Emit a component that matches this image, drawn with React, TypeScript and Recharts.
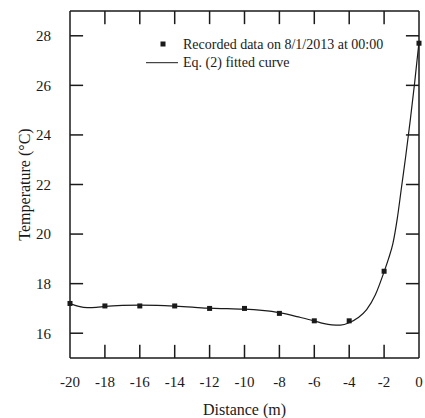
import React from 'react';
import { ComposedChart, Line, Scatter, XAxis, YAxis, ReferenceLine } from 'recharts';

const distances = [-20, -18, -16, -14, -12, -10, -8, -6, -4, -2, 0];
const recordedTemps = [17.2, 17.1, 17.1, 17.1, 17.0, 17.0, 16.8, 16.5, 16.5, 18.5, 27.7];

const fitDistances = [-20, -19.5, -19, -18.5, -18, -17, -16, -15, -14, -13, -12, -11, -10, -9, -8, -7, -6, -5.5, -5, -4.5, -4, -3.5, -3, -2.5, -2, -1.75, -1.5, -1.25, -1, -0.75, -0.5, -0.25, 0];
const fitTemps = [17.2, 17.08, 17.03, 17.04, 17.08, 17.12, 17.13, 17.12, 17.09, 17.05, 17.01, 16.99, 16.97, 16.92, 16.83, 16.67, 16.5, 16.4, 16.34, 16.33, 16.42, 16.62, 16.95, 17.55, 18.48, 19.0, 19.6, 20.6, 21.9, 23.2, 24.6, 26.1, 27.75];

const xTicks = [-20, -18, -16, -14, -12, -10, -8, -6, -4, -2, 0];
const yTicks = [16, 18, 20, 22, 24, 26, 28];
const X_MIN = -20;
const X_MAX = 0;
const Y_MIN = 15;
const Y_MAX = 29;

const recordedData = distances.map((d, i) => ({ x: d, y: recordedTemps[i] }));
const fitData = fitDistances.map((d, i) => ({ x: d, y: fitTemps[i] }));

const FONT = '"Liberation Serif", "Times New Roman", serif';
const INK = '#1a1a1a';
// inward tick length expressed in data units (about 13 px each way)
const TICK_DX = 0.75;
const TICK_DY = 0.53;

const innerXTicks = xTicks.filter((t) => t > X_MIN && t < X_MAX);

const Square = (props: any) => {
  const cx = Number(props.cx);
  const cy = Number(props.cy);
  return <rect x={cx - 2.5} y={cy - 2.5} width={5} height={5} fill={INK} />;
};

const tickText = { fontFamily: FONT, fontSize: 15, fill: INK };

const legendItems = [
  { label: 'Recorded data on 8/1/2013 at 00:00', kind: 'square' },
  { label: 'Eq. (2) fitted curve', kind: 'line' },
];

export default function App() {
  return (
    <div style={{ position: 'absolute', left: 0, top: 0, width: 425, height: 418 }}>
      <ComposedChart width={425} height={418} margin={{ top: 11, right: 6, left: 0, bottom: 0 }}>
        <XAxis
          dataKey="x"
          type="number"
          domain={[X_MIN, X_MAX]}
          ticks={xTicks}
          height={60}
          tickSize={0}
          tickMargin={18}
          tickLine={false}
          tick={tickText}
          interval={0}
          stroke={INK}
          strokeWidth={1.5}
        />
        <YAxis
          dataKey="y"
          type="number"
          domain={[Y_MIN, Y_MAX]}
          ticks={yTicks}
          width={70}
          tickSize={0}
          tickMargin={19}
          tickLine={false}
          tick={tickText}
          interval={0}
          stroke={INK}
          strokeWidth={1.5}
        />
        {/* top and right frame edges */}
        <ReferenceLine y={Y_MAX} stroke={INK} strokeWidth={1.5} />
        <ReferenceLine x={X_MAX} stroke={INK} strokeWidth={1.5} />
        {/* inward tick marks on the bottom and top edges */}
        {innerXTicks.map((t) => (
          <ReferenceLine key={`b${t}`} segment={[{ x: t, y: Y_MIN }, { x: t, y: Y_MIN + TICK_DY }]} stroke={INK} strokeWidth={1.5} />
        ))}
        {innerXTicks.map((t) => (
          <ReferenceLine key={`t${t}`} segment={[{ x: t, y: Y_MAX }, { x: t, y: Y_MAX - TICK_DY }]} stroke={INK} strokeWidth={1.5} />
        ))}
        {/* inward tick marks on the left and right edges */}
        {yTicks.map((t) => (
          <ReferenceLine key={`l${t}`} segment={[{ x: X_MIN, y: t }, { x: X_MIN + TICK_DX, y: t }]} stroke={INK} strokeWidth={1.5} />
        ))}
        {yTicks.map((t) => (
          <ReferenceLine key={`r${t}`} segment={[{ x: X_MAX, y: t }, { x: X_MAX - TICK_DX, y: t }]} stroke={INK} strokeWidth={1.5} />
        ))}
        <Line data={fitData} dataKey="y" type="monotone" stroke={INK} strokeWidth={1.2} dot={false} activeDot={false} isAnimationActive={false} />
        <Scatter data={recordedData} dataKey="y" shape={Square} fill={INK} isAnimationActive={false} />
      </ComposedChart>
      <svg width={425} height={418} style={{ position: 'absolute', left: 0, top: 0, pointerEvents: 'none' }}>
        <text x={244.5} y={415} textAnchor="middle" fontFamily={FONT} fontSize={16} fill={INK}>
          Distance (m)
        </text>
        <text x={30} y={184.5} transform="rotate(-90, 30, 184.5)" textAnchor="middle" fontFamily={FONT} fontSize={16} fill={INK}>
          Temperature (°C)
        </text>
        {legendItems.map((item, i) => {
          const cy = 44 + i * 18.7;
          return (
            <g key={item.label}>
              {item.kind === 'square' ? (
                <rect x={160.5} y={cy - 2.5} width={5} height={5} fill={INK} />
              ) : (
                <line x1={146} x2={178} y1={cy} y2={cy} stroke={INK} strokeWidth={1} />
              )}
              <text x={183} y={cy + 4.5} fontFamily={FONT} fontSize={14} fill={INK}>
                {item.label}
              </text>
            </g>
          );
        })}
      </svg>
    </div>
  );
}
